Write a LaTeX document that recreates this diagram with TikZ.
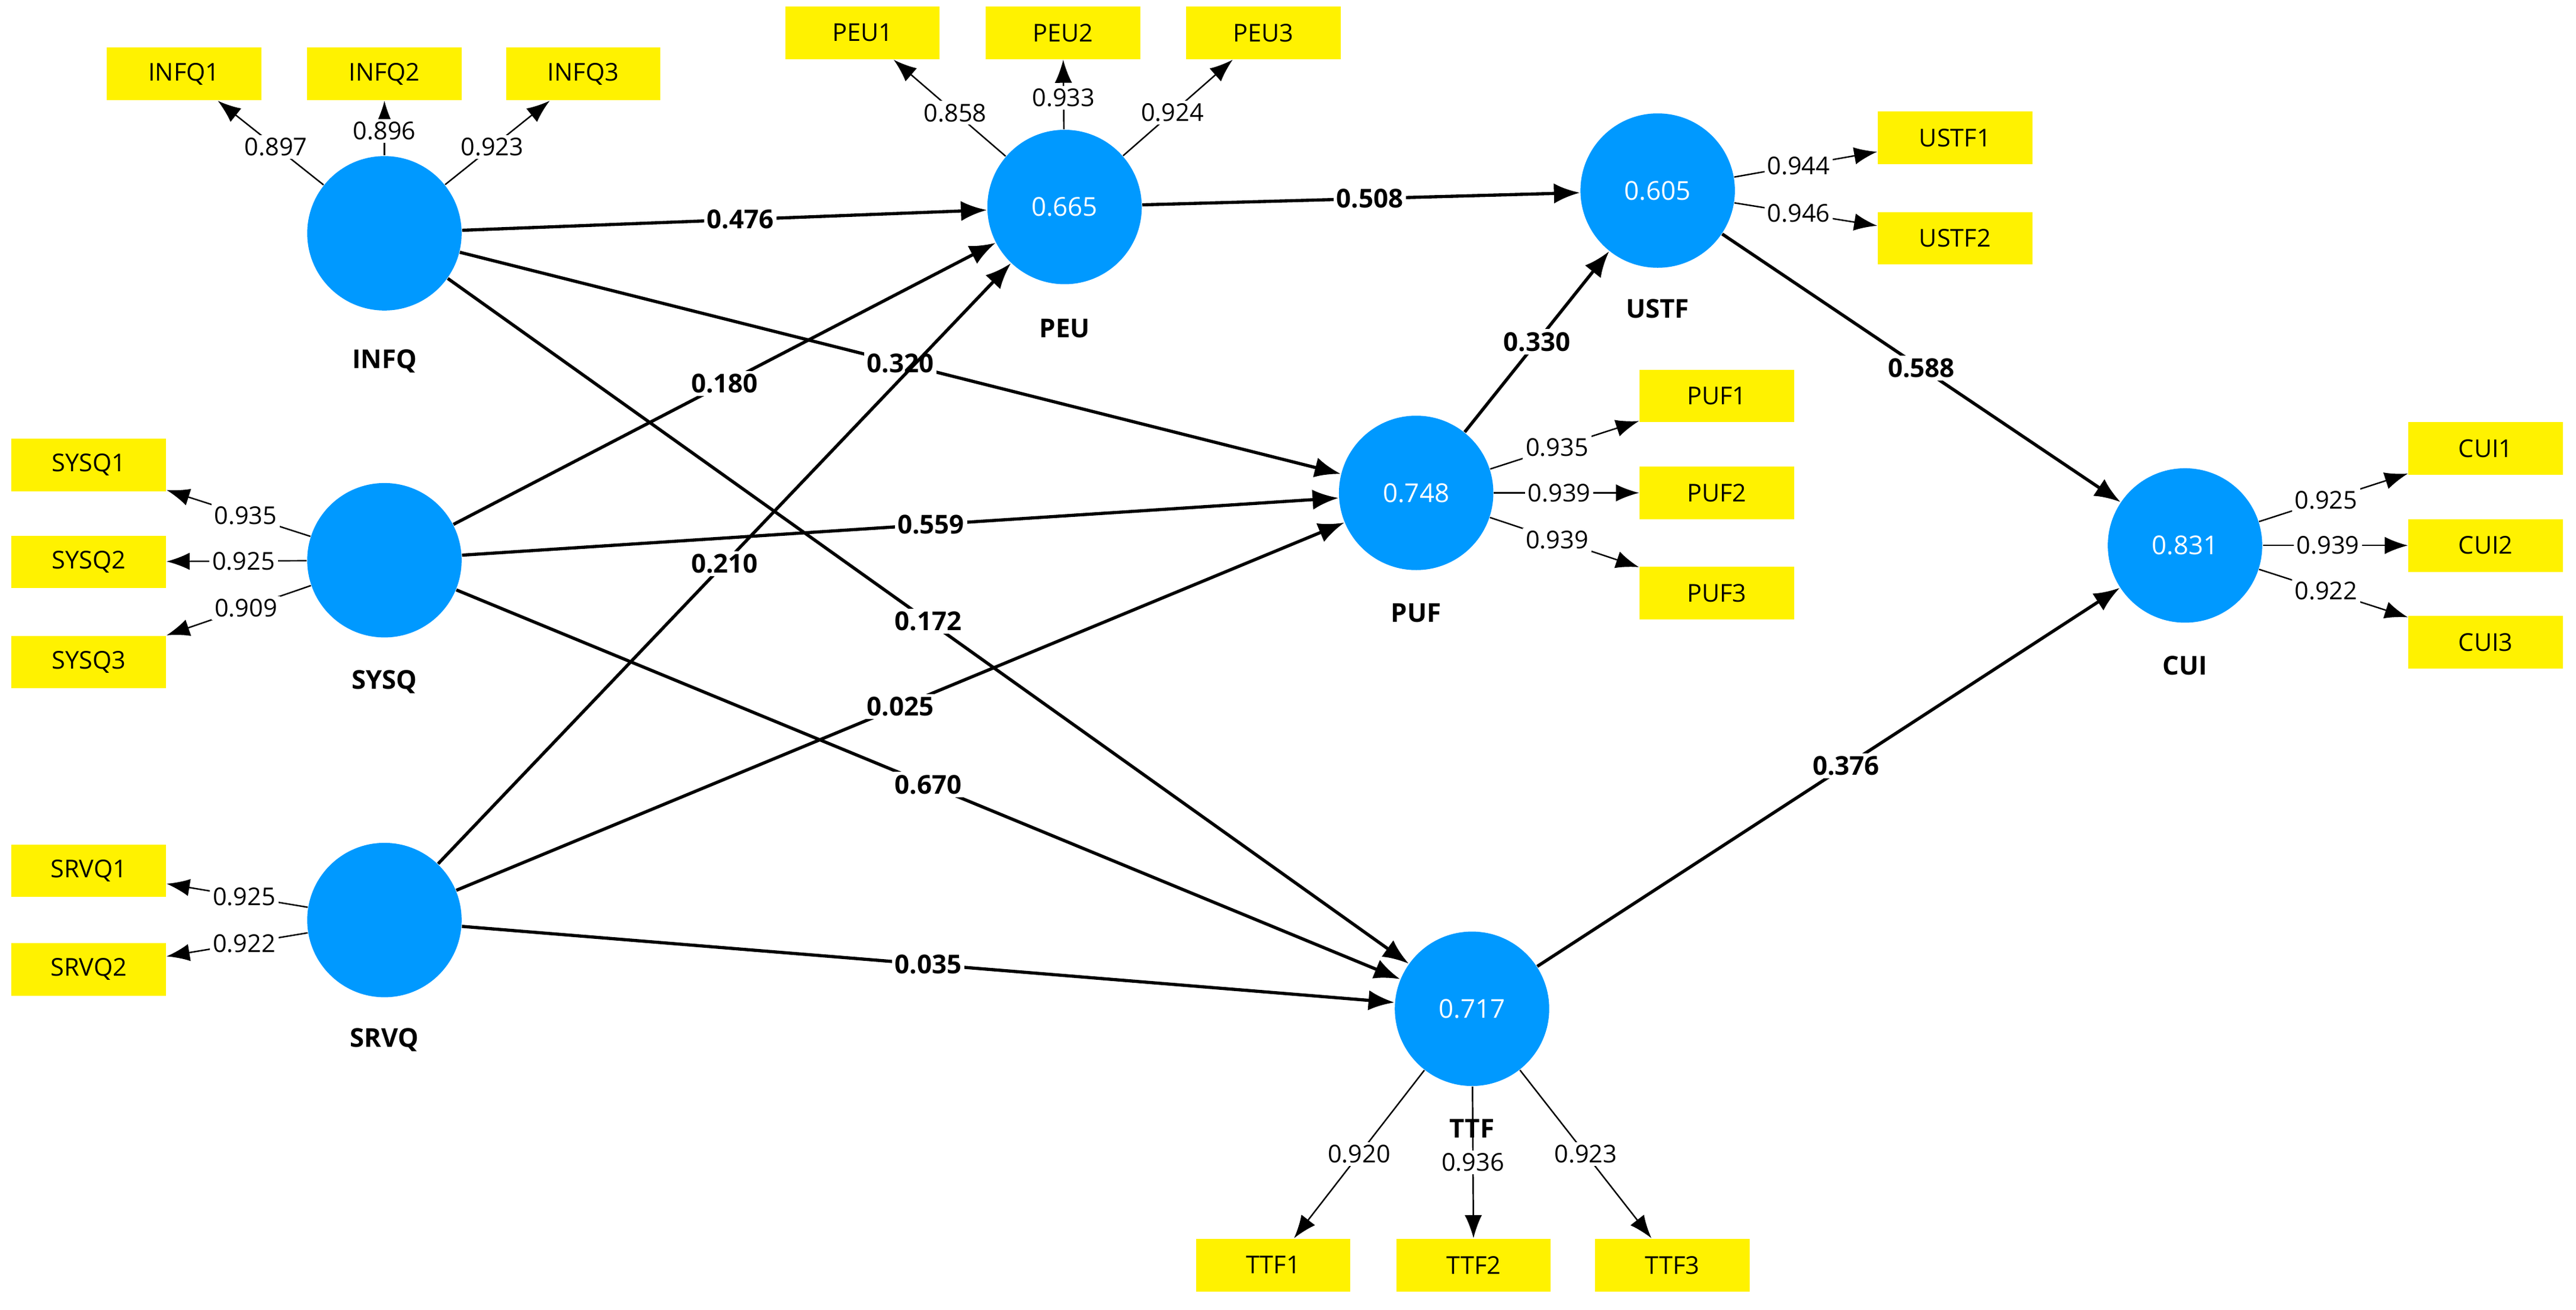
\documentclass[tikz,border=0pt]{standalone}
\usepackage{fontspec}
\setmainfont{Open Sans}
\usetikzlibrary{arrows.meta}
\definecolor{lv}{HTML}{0099FF}
\begin{document}
\begin{tikzpicture}[x=0.02cm, y=-0.02cm,
  lv/.style={circle, fill=lv, minimum size=1.88cm, inner sep=0pt, text=white, font=\fontsize{9}{10}\selectfont},
  mv/.style={rectangle, fill=yellow, minimum width=1.88cm, minimum height=0.64cm, font=\fontsize{8.5}{10}\selectfont},
  nm/.style={font=\bfseries\fontsize{9}{10}\selectfont},
  path/.style={line width=1.1pt, -{Latex[length=9pt,width=7pt]}},
  load/.style={line width=0.5pt, -{Latex[length=8pt,width=6pt]}},
  pl/.style={fill=white, inner sep=1pt, font=\bfseries\fontsize{9}{10}\selectfont},
  ll/.style={fill=white, inner sep=1pt, font=\fontsize{8.5}{10}\selectfont}]
\useasboundingbox (0,0) rectangle (1568,797);

% latent variables
\node[lv] (INFQ) at (234,142) {};
\node[lv] (SYSQ) at (234,341) {};
\node[lv] (SRVQ) at (234,560) {};
\node[lv] (PEU) at (648,126) {0.665};
\node[lv] (USTF) at (1009,116) {0.605};
\node[lv] (PUF) at (862,300) {0.748};
\node[lv] (TTF) at (896,614) {0.717};
\node[lv] (CUI) at (1330,332) {0.831};

\node[nm] (nINFQ) at (234,220) {INFQ};
\node[nm] (nSYSQ) at (234,415) {SYSQ};
\node[nm] (nSRVQ) at (234,633) {SRVQ};
\node[nm] (nPEU) at (648,200) {PEU};
\node[nm] (nUSTF) at (1009,188) {USTF};
\node[nm] (nPUF) at (862,373) {PUF};
\node[nm] (nTTF) at (896,687) {TTF};
\node[nm] (nCUI) at (1330,405) {CUI};

% indicators
\node[mv] (INFQ1) at (112,45) {INFQ1};
\node[mv] (INFQ2) at (234,45) {INFQ2};
\node[mv] (INFQ3) at (355,45) {INFQ3};
\node[mv] (PEU1) at (525,20) {PEU1};
\node[mv] (PEU2) at (647,20) {PEU2};
\node[mv] (PEU3) at (769,20) {PEU3};
\node[mv] (USTF1) at (1190,84) {USTF1};
\node[mv] (USTF2) at (1190,145) {USTF2};
\node[mv] (PUF1) at (1045,241) {PUF1};
\node[mv] (PUF2) at (1045,300) {PUF2};
\node[mv] (PUF3) at (1045,361) {PUF3};
\node[mv] (CUI1) at (1513,273) {CUI1};
\node[mv] (CUI2) at (1513,332) {CUI2};
\node[mv] (CUI3) at (1513,391) {CUI3};
\node[mv] (SYSQ1) at (54,283) {SYSQ1};
\node[mv] (SYSQ2) at (54,342) {SYSQ2};
\node[mv] (SYSQ3) at (54,403) {SYSQ3};
\node[mv] (SRVQ1) at (54,530) {SRVQ1};
\node[mv] (SRVQ2) at (54,590) {SRVQ2};
\node[mv] (TTF1) at (775,770) {TTF1};
\node[mv] (TTF2) at (897,770) {TTF2};
\node[mv] (TTF3) at (1018,770) {TTF3};

% outer loadings
\draw[load] (INFQ) -- node[ll,pos=0.45]{0.897} (INFQ1);
\draw[load] (INFQ) -- node[ll,pos=0.45]{0.896} (INFQ2);
\draw[load] (INFQ) -- node[ll,pos=0.45]{0.923} (INFQ3);
\draw[load] (PEU) -- node[ll,pos=0.45]{0.858} (PEU1);
\draw[load] (PEU) -- node[ll,pos=0.45]{0.933} (PEU2);
\draw[load] (PEU) -- node[ll,pos=0.45]{0.924} (PEU3);
\draw[load] (USTF) -- node[ll,pos=0.45]{0.944} (USTF1);
\draw[load] (USTF) -- node[ll,pos=0.45]{0.946} (USTF2);
\draw[load] (PUF) -- node[ll,pos=0.45]{0.935} (PUF1);
\draw[load] (PUF) -- node[ll,pos=0.45]{0.939} (PUF2);
\draw[load] (PUF) -- node[ll,pos=0.45]{0.939} (PUF3);
\draw[load] (CUI) -- node[ll,pos=0.45]{0.925} (CUI1);
\draw[load] (CUI) -- node[ll,pos=0.45]{0.939} (CUI2);
\draw[load] (CUI) -- node[ll,pos=0.45]{0.922} (CUI3);
\draw[load] (SYSQ) -- node[ll,pos=0.45]{0.935} (SYSQ1);
\draw[load] (SYSQ) -- node[ll,pos=0.45]{0.925} (SYSQ2);
\draw[load] (SYSQ) -- node[ll,pos=0.45]{0.909} (SYSQ3);
\draw[load] (SRVQ) -- node[ll,pos=0.45]{0.925} (SRVQ1);
\draw[load] (SRVQ) -- node[ll,pos=0.45]{0.922} (SRVQ2);
\draw[load] (TTF) -- node[ll,pos=0.5]{0.920} (TTF1);
\draw[load] (TTF) -- node[ll,pos=0.5]{0.936} (TTF2);
\draw[load] (TTF) -- node[ll,pos=0.5]{0.923} (TTF3);

% structural paths
\draw[path] (INFQ) -- node[pl,pos=0.53]{0.476} (PEU);
\draw[path] (PEU) -- node[pl,pos=0.52]{0.508} (USTF);
\draw[path] (INFQ) -- node[pl,pos=0.5]{0.320} (PUF);
\draw[path] (SYSQ) -- node[pl,pos=0.5]{0.180} (PEU);
\draw[path] (SRVQ) -- node[pl,pos=0.5]{0.210} (PEU);
\draw[path] (SYSQ) -- node[pl,pos=0.535]{0.559} (PUF);
\draw[path] (INFQ) -- node[pl,pos=0.5]{0.172} (TTF);
\draw[path] (SRVQ) -- node[pl,pos=0.5]{0.025} (PUF);
\draw[path] (SYSQ) -- node[pl,pos=0.5]{0.670} (TTF);
\draw[path] (SRVQ) -- node[pl,pos=0.5]{0.035} (TTF);
\draw[path] (PUF) -- node[pl,pos=0.5]{0.330} (USTF);
\draw[path] (USTF) -- node[pl,pos=0.5]{0.588} (CUI);
\draw[path] (TTF) -- node[pl,pos=0.53]{0.376} (CUI);
\end{tikzpicture}
\end{document}
